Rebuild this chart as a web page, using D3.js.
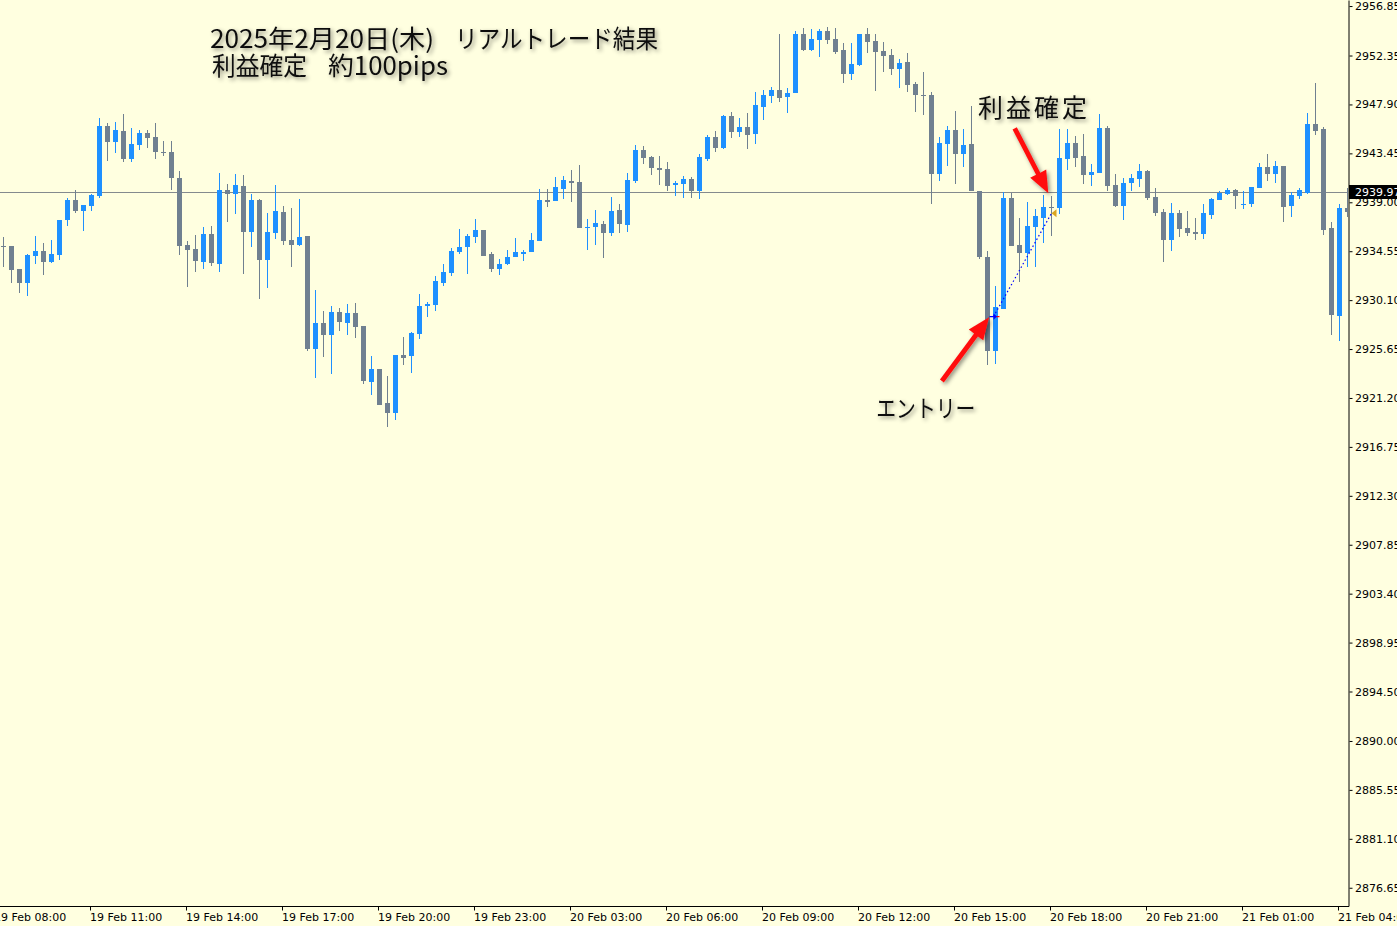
<!DOCTYPE html>
<html><head><meta charset="utf-8">
<script src="https://cdn.jsdelivr.net/npm/d3@7"></script>
<style>html,body{margin:0;padding:0;background:#FFFFE0;overflow:hidden}</style>
</head><body>
<svg id="c" width="1397" height="926"></svg>
<script>
// ---- data: 15-minute XAUUSD candles, index 0..168 ----
const opens = [2935.02,2935.02,2932.93,2931.69,2934.14,2934.57,2933.60,2934.21,2937.39,2939.21,2938.21,2938.66,2939.57,2945.94,2944.48,2945.48,2942.94,2944.21,2945.30,2944.94,2943.57,2943.57,2941.21,2935.11,2934.75,2933.57,2936.12,2933.39,2940.12,2939.75,2940.48,2936.30,2939.21,2933.75,2936.21,2938.12,2935.57,2935.11,2935.93,2925.65,2928.02,2926.93,2929.02,2928.02,2928.93,2927.75,2922.65,2923.84,2920.74,2919.83,2925.11,2925.02,2927.02,2929.57,2929.66,2931.66,2932.57,2934.48,2934.93,2935.84,2936.48,2934.30,2932.93,2933.39,2934.02,2934.30,2934.48,2935.48,2939.21,2939.12,2940.21,2940.94,2940.85,2936.66,2936.75,2937.02,2936.21,2938.30,2936.93,2940.94,2943.76,2943.12,2942.12,2942.03,2940.57,2940.66,2941.12,2940.03,2942.94,2944.94,2943.94,2946.85,2945.39,2945.85,2945.21,2947.67,2948.67,2949.21,2948.58,2948.94,2954.31,2952.85,2953.76,2954.58,2953.85,2952.85,2950.67,2951.49,2954.31,2953.67,2952.76,2952.40,2951.12,2951.76,2949.76,2948.76,2948.76,2941.57,2944.30,2945.58,2943.39,2944.30,2940.03,2934.02,2925.47,2929.29,2939.39,2935.11,2934.39,2936.75,2937.57,2938.57,2938.48,2942.94,2944.39,2943.21,2941.48,2941.66,2945.76,2940.57,2938.66,2940.75,2941.12,2941.85,2939.48,2938.12,2935.57,2938.03,2936.66,2936.30,2936.12,2937.84,2939.21,2939.75,2940.12,2938.80,2938.84,2940.30,2942.21,2941.57,2942.30,2938.66,2939.57,2939.84,2946.12,2945.67,2936.66,2928.66,2938.48];
const highs = [2935.87,2935.05,2932.95,2934.30,2935.93,2935.30,2935.57,2937.39,2939.39,2940.12,2938.75,2939.75,2946.67,2946.21,2946.30,2947.03,2945.76,2945.58,2945.58,2946.21,2944.57,2944.57,2941.85,2935.48,2936.02,2936.75,2936.84,2941.66,2940.66,2941.57,2941.48,2939.75,2939.30,2938.03,2940.57,2938.66,2938.48,2939.30,2935.95,2931.02,2929.11,2929.57,2929.38,2929.75,2929.84,2927.77,2925.02,2923.86,2923.20,2925.13,2926.75,2927.20,2930.66,2929.93,2932.30,2933.39,2934.84,2936.57,2936.12,2937.48,2936.50,2934.48,2933.84,2934.66,2935.75,2934.66,2936.21,2940.21,2940.21,2941.30,2941.39,2941.94,2942.39,2937.48,2938.30,2937.30,2939.48,2938.84,2941.66,2944.21,2944.12,2943.21,2943.21,2942.66,2940.94,2941.39,2941.30,2943.39,2945.12,2945.48,2946.94,2947.21,2946.67,2947.12,2949.03,2949.21,2949.49,2954.31,2949.40,2954.58,2954.85,2954.76,2954.76,2954.94,2954.85,2953.49,2953.49,2954.33,2954.85,2954.31,2953.58,2952.94,2952.03,2952.58,2949.94,2950.85,2949.03,2944.94,2945.94,2947.30,2945.67,2947.76,2940.05,2934.57,2931.39,2939.94,2939.84,2937.57,2939.03,2938.39,2939.66,2939.57,2945.67,2945.67,2945.03,2945.21,2942.48,2947.03,2945.94,2941.57,2941.21,2941.57,2942.48,2941.94,2940.30,2938.39,2938.94,2938.30,2938.21,2937.57,2938.84,2939.39,2940.03,2940.30,2940.21,2940.03,2940.41,2942.57,2943.39,2942.76,2942.32,2939.94,2940.30,2947.12,2949.85,2945.85,2937.21,2938.84,2940.30];
const lows = [2933.14,2931.69,2930.78,2930.50,2933.39,2932.41,2933.51,2933.75,2936.84,2938.03,2936.39,2938.21,2939.39,2942.76,2943.48,2942.66,2942.66,2943.76,2943.94,2942.94,2943.21,2940.12,2934.21,2931.29,2932.66,2932.93,2933.20,2932.66,2937.21,2937.93,2932.48,2934.93,2930.20,2931.20,2935.66,2935.11,2933.11,2935.02,2925.47,2923.02,2924.93,2923.38,2927.29,2926.93,2926.66,2922.47,2921.47,2920.54,2918.56,2919.20,2924.20,2923.47,2926.56,2928.57,2929.11,2931.39,2932.30,2934.30,2932.48,2935.30,2934.09,2932.66,2932.39,2933.30,2934.00,2933.66,2934.46,2935.46,2938.57,2939.10,2939.30,2939.03,2936.64,2934.66,2935.11,2933.93,2935.93,2936.21,2936.30,2940.75,2942.48,2941.48,2940.57,2940.03,2939.57,2939.39,2939.39,2939.30,2942.76,2943.57,2943.85,2944.85,2944.94,2943.85,2944.30,2946.48,2948.03,2948.12,2947.12,2948.92,2952.76,2952.76,2952.22,2953.40,2952.49,2949.85,2950.12,2951.40,2952.58,2949.12,2950.85,2950.58,2949.40,2949.03,2947.21,2946.94,2938.84,2940.94,2942.30,2940.66,2942.21,2940.01,2933.84,2924.20,2924.29,2929.27,2935.00,2931.75,2933.11,2933.11,2935.30,2935.93,2937.93,2941.94,2942.21,2940.66,2940.48,2941.64,2940.03,2938.57,2937.39,2940.03,2940.39,2939.21,2937.75,2933.57,2934.57,2935.84,2935.93,2935.57,2935.66,2937.48,2939.19,2939.66,2938.39,2938.39,2938.57,2940.28,2940.94,2940.75,2937.21,2937.66,2939.30,2939.75,2945.12,2936.02,2926.93,2926.38,2937.66];
const closes = [2935.00,2932.84,2931.69,2934.21,2934.57,2933.60,2934.30,2937.39,2939.21,2938.21,2938.75,2939.66,2945.94,2944.48,2945.58,2942.94,2944.30,2945.30,2944.85,2943.57,2943.55,2941.21,2935.02,2934.66,2933.66,2936.12,2933.48,2940.12,2939.75,2940.57,2936.30,2939.21,2933.75,2936.30,2938.21,2935.48,2935.11,2935.84,2925.65,2928.02,2926.93,2929.02,2928.11,2928.93,2927.66,2922.74,2923.84,2920.56,2919.83,2925.11,2924.84,2927.11,2929.57,2929.75,2931.84,2932.66,2934.57,2934.93,2935.93,2936.48,2934.11,2932.93,2933.39,2934.02,2934.48,2934.48,2935.57,2939.21,2939.03,2940.39,2941.03,2940.75,2936.66,2936.75,2937.12,2936.21,2938.21,2937.02,2941.03,2943.76,2943.03,2942.12,2941.94,2940.48,2940.75,2941.12,2940.03,2943.12,2944.94,2943.94,2946.85,2945.39,2945.85,2945.12,2947.85,2948.76,2949.21,2948.49,2948.94,2954.31,2952.85,2953.85,2954.58,2953.76,2952.67,2950.67,2951.58,2954.31,2953.58,2952.67,2952.31,2951.12,2951.67,2949.67,2948.76,2948.72,2941.57,2944.39,2945.58,2943.39,2944.21,2940.03,2934.02,2925.47,2929.48,2939.39,2935.02,2934.39,2936.84,2937.75,2938.57,2938.48,2943.03,2944.39,2943.03,2941.48,2941.75,2945.76,2940.48,2938.66,2940.75,2941.21,2941.85,2939.39,2938.03,2935.57,2938.03,2936.57,2936.21,2936.12,2938.03,2939.30,2939.84,2940.12,2939.57,2938.84,2940.39,2942.21,2941.57,2942.30,2938.57,2939.66,2940.12,2946.12,2945.48,2936.48,2928.75,2938.48,2938.12];

const priceTicks = [2956.85,2952.35,2947.90,2943.45,2939.00,2934.55,2930.10,2925.65,2921.20,2916.75,2912.30,2907.85,2903.40,2898.95,2894.50,2890.00,2885.55,2881.10,2876.65];
const timeBars = [-1,11,23,35,47,59,71,83,95,107,119,131,143,155,167];
const timeLabels = ["19 Feb 08:00","19 Feb 11:00","19 Feb 14:00","19 Feb 17:00","19 Feb 20:00","19 Feb 23:00","20 Feb 03:00","20 Feb 06:00","20 Feb 09:00","20 Feb 12:00","20 Feb 15:00","20 Feb 18:00","20 Feb 21:00","21 Feb 01:00","21 Feb 04:00"];
const currentPrice = 2939.97;
const entryBar = 124, entryPrice = 2928.60;
const exitBar = 131, exitPrice = 2938.00;
const titleLines = ["2025年2月20日(木)", "リアルトレード結果", "利益確定", "約100pips"];
const annotTexts = ["利益確定", "エントリー"];

// ---- layout ----
const W = 1397, H = 926, PR = 1348, PB = 906;
const UP = "#1E90FF", DOWN = "#708090", BG = "#FFFFE0";
const x = d3.scaleLinear().domain([0, 168]).range([3.5, 3.5 + 8 * 168]);
const y = d3.scaleLinear().domain([2874.99, 2957.40]).range([PB, 0]);

const svg = d3.select("#c");
const defs = svg.append("defs");
const flt = defs.append("filter").attr("id", "sh").attr("x", "-20%").attr("y", "-50%").attr("width", "150%").attr("height", "200%");
flt.append("feDropShadow").attr("dx", 2).attr("dy", 2).attr("stdDeviation", 2)
  .attr("flood-color", "#000").attr("flood-opacity", 0.45);
defs.append("clipPath").attr("id", "plot").append("rect")
  .attr("x", 0).attr("y", 0).attr("width", PR).attr("height", PB);

svg.append("rect").attr("width", W).attr("height", H).attr("fill", BG);

// current price line
const yc = Math.round(y(currentPrice)) + 0.5;
svg.append("line").attr("x1", 0).attr("x2", PR).attr("y1", yc).attr("y2", yc)
  .attr("stroke", "#848a8e").attr("stroke-width", 1);

// candles
const data = opens.map((o, i) => ({ i, o, h: highs[i], l: lows[i], c: closes[i] }));
const g = svg.append("g").attr("clip-path", "url(#plot)").attr("shape-rendering", "crispEdges");
const cg = g.selectAll("g.cd").data(data).join("g").attr("class", "cd")
  .attr("fill", d => d.c > d.o ? UP : DOWN);
cg.append("rect")
  .attr("x", d => x(d.i) - 0.5).attr("width", 1)
  .attr("y", d => Math.round(y(d.h)))
  .attr("height", d => Math.max(1, Math.round(y(d.l)) - Math.round(y(d.h))));
cg.append("rect")
  .attr("x", d => x(d.i) - 2.5).attr("width", 5)
  .attr("y", d => Math.round(y(Math.max(d.o, d.c))))
  .attr("height", d => Math.max(1, Math.round(y(Math.min(d.o, d.c))) - Math.round(y(Math.max(d.o, d.c)))));

// trade line & markers
const ex0 = x(entryBar) - 2, ey0 = y(entryPrice);
const ex1 = x(exitBar), ey1 = y(exitPrice);
svg.append("line").attr("x1", ex0).attr("y1", ey0).attr("x2", ex1).attr("y2", ey1)
  .attr("stroke", "#0000ff").attr("stroke-width", 1.2).attr("stroke-dasharray", "1.5,2.5");
svg.append("line").attr("x1", ex0 + 1).attr("x2", ex0 + 6).attr("y1", ey0).attr("y2", ey0)
  .attr("stroke", "#ff0000").attr("stroke-width", 1.2);
svg.append("path").attr("d", `M${ex0-4},${ey0-0.6}h4v-2.5l3.5,3.1l-3.5,3.1v-2.5h-4z`).attr("fill", "#0000ff");
svg.append("path").attr("d", `M${ex1},${ey1}l5,-4v8z`).attr("fill", "#DAA520");

// axes
const ya = svg.append("g").attr("transform", `translate(${PR + 0.5},0)`)
  .call(d3.axisRight(y).tickValues(priceTicks).tickSize(4).tickSizeOuter(0).tickFormat(d3.format(".2f")));
ya.select(".domain").attr("stroke", "#000");
ya.selectAll(".tick line").attr("stroke", "#000").attr("x1", 1).attr("x2", 4);
ya.selectAll(".tick text").attr("x", 6.5).attr("fill", "#000")
  .attr("font-family", "DejaVu Sans").attr("font-size", 11);

svg.append("line").attr("x1", 0).attr("x2", PR + 1).attr("y1", PB + 0.5).attr("y2", PB + 0.5).attr("stroke", "#000");
const xa = svg.append("g").attr("transform", `translate(0,${PB + 0.5})`)
  .call(d3.axisBottom(x).tickValues(timeBars).tickSize(4).tickSizeOuter(0).tickFormat((d, i) => timeLabels[i]));
xa.select(".domain").remove();
xa.selectAll(".tick").attr("transform", d => `translate(${Math.round(x(d) - 1.5) + 0.5},0)`);
xa.selectAll(".tick line").attr("stroke", "#000");
xa.selectAll(".tick text").attr("text-anchor", "start").attr("x", -0.5).attr("y", 7).attr("dy", "0.71em")
  .attr("fill", "#000").attr("font-family", "DejaVu Sans").attr("font-size", 11);

// current price label
svg.append("rect").attr("x", PR + 1).attr("y", Math.round(y(currentPrice)) - 7).attr("width", W - PR).attr("height", 14).attr("fill", "#000");
svg.append("text").attr("x", PR + 7).attr("y", Math.round(y(currentPrice)) + 4)
  .attr("fill", "#fff").attr("font-family", "DejaVu Sans").attr("font-size", 11).text(currentPrice.toFixed(2));

// red annotation arrows
function arrowPts(x0, y0, x1, y1, sw, hl, hw) {
  const dx = x1 - x0, dy = y1 - y0, L = Math.hypot(dx, dy), ux = dx / L, uy = dy / L, px = -uy, py = ux;
  const bx = x1 - ux * hl, by = y1 - uy * hl;
  return [[x0 + px * sw, y0 + py * sw], [bx + px * sw, by + py * sw], [bx + px * hw, by + py * hw], [x1, y1],
          [bx - px * hw, by - py * hw], [bx - px * sw, by - py * sw], [x0 - px * sw, y0 - py * sw]];
}
const arrows = [
  { from: [117.3, 2922.74], to: [123.2, 2928.54] },
  { from: [126.4, 2945.73], to: [130.6, 2939.82] }
];
arrows.forEach(a => {
  svg.append("polygon")
    .attr("points", arrowPts(x(a.from[0]), y(a.from[1]), x(a.to[0]), y(a.to[1]), 2.4, 22, 9).map(p => p.join(",")).join(" "))
    .attr("fill", "#ff1010").attr("filter", "url(#sh)");
});

// texts
const tg = svg.append("g").attr("font-family", "Noto Sans CJK JP").attr("fill", "#111").attr("filter", "url(#sh)");
tg.append("text").attr("x", 210).attr("y", 48).attr("font-size", 25).attr("textLength", 224).attr("lengthAdjust", "spacingAndGlyphs").text(titleLines[0]);
tg.append("text").attr("x", 455).attr("y", 48).attr("font-size", 25).attr("textLength", 203).attr("lengthAdjust", "spacingAndGlyphs").text(titleLines[1]);
tg.append("text").attr("x", 212).attr("y", 75).attr("font-size", 25).attr("textLength", 95).attr("lengthAdjust", "spacingAndGlyphs").text(titleLines[2]);
tg.append("text").attr("x", 328).attr("y", 75).attr("font-size", 25).attr("textLength", 120).attr("lengthAdjust", "spacingAndGlyphs").text(titleLines[3]);
tg.append("text").attr("x", x(121.8)).attr("y", y(2946.80)).attr("font-size", 25).attr("textLength", 109).attr("lengthAdjust", "spacing").text(annotTexts[0]);
tg.append("text").attr("x", x(109.1)).attr("y", y(2919.50)).attr("font-size", 24).attr("textLength", 99).attr("lengthAdjust", "spacingAndGlyphs").text(annotTexts[1]);
</script>
</body></html>
